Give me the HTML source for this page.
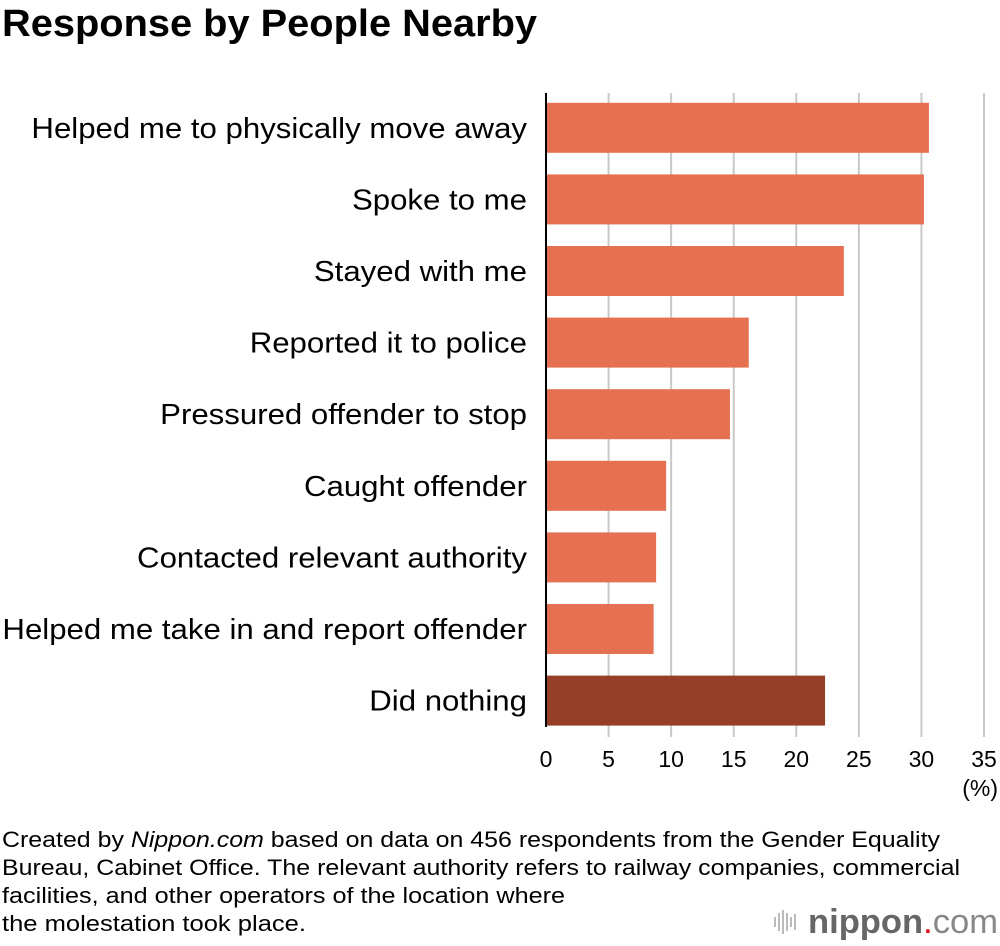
<!DOCTYPE html>
<html><head><meta charset="utf-8"><style>
body{margin:0;background:#fff;}
svg{display:block;font-family:"Liberation Sans",Arial,sans-serif;}
</style></head><body>
<svg id="chart" width="1000" height="946" viewBox="0 0 1000 946">
<text x="2" y="36" font-size="38" font-weight="bold" fill="#000" textLength="535" lengthAdjust="spacingAndGlyphs">Response by People Nearby</text>
<g id="grid"></g>
<g id="bars"></g>
<g id="labels"></g>
<g id="ticks"></g>
<line x1="546" y1="93" x2="546" y2="727" stroke="#000" stroke-width="2"/>
<text x="998" y="796" font-size="23" text-anchor="end">(%)</text>
<g font-size="22" fill="#000">
<text x="2" y="847" textLength="938" lengthAdjust="spacingAndGlyphs">Created by <tspan font-style="italic">Nippon.com</tspan> based on data on 456 respondents from the Gender Equality</text>
<text x="2" y="875" textLength="958" lengthAdjust="spacingAndGlyphs">Bureau, Cabinet Office. The relevant authority refers to railway companies, commercial</text>
<text x="2" y="903" textLength="563" lengthAdjust="spacingAndGlyphs">facilities, and other operators of the location where</text>
<text x="2" y="931" textLength="304" lengthAdjust="spacingAndGlyphs">the molestation took place.</text>
</g>
<g>
<g stroke="#bbb" stroke-width="2">
<line x1="775" y1="917" x2="775" y2="927"/><line x1="779" y1="913" x2="779" y2="931"/><line x1="783" y1="910" x2="783" y2="934"/><line x1="787" y1="913" x2="787" y2="931"/><line x1="791" y1="917" x2="791" y2="927"/><line x1="795" y1="914" x2="795" y2="930"/>
</g>
<text x="808" y="933" font-size="34" fill="#666" textLength="190" lengthAdjust="spacingAndGlyphs"><tspan font-weight="bold">nippon</tspan><tspan fill="#e60012">.</tspan><tspan fill="#888">com</tspan></text>
</g>
</svg>
<script>
const categories=["Helped me to physically move away","Spoke to me","Stayed with me","Reported it to police","Pressured offender to stop","Caught offender","Contacted relevant authority","Helped me take in and report offender","Did nothing"];
const values=[30.6,30.2,23.8,16.2,14.7,9.6,8.8,8.6,22.3];
const tickValues=[0,5,10,15,20,25,30,35];
const tickLabels=["0","5","10","15","20","25","30","35"];
const NS="http://www.w3.org/2000/svg";
const x0=546, pxPer=(984-546)/35;
const xs=v=>x0+v*pxPer;
const yTop=92, band=71.6, barH=50;
const yc=i=>yTop+band*i+band/2;
function mk(tag,attrs,parent){const e=document.createElementNS(NS,tag);for(const k in attrs)e.setAttribute(k,attrs[k]);parent.appendChild(e);return e;}
const grid=document.getElementById('grid'),bars=document.getElementById('bars'),labels=document.getElementById('labels'),ticks=document.getElementById('ticks');
tickValues.forEach((t,i)=>{
  if(t>0){const l=mk('line',{x1:xs(t),x2:xs(t),y1:93,y2:737,stroke:'#c8c8c8','stroke-width':2},grid);
  
  }
  const tx=mk('text',{x:xs(t),y:767,'font-size':23,'text-anchor':'middle'},ticks);
  tx.textContent=tickLabels[i];
  
  
});
categories.forEach((c,i)=>{
  const r=mk('rect',{x:547,y:yc(i)-barH/2,width:xs(values[i])-547,height:barH,fill:i===categories.length-1?'#963f27':'#e57052'},bars);
  
  
  const t=mk('text',{x:527,y:yc(i)+10,'font-size':29,'text-anchor':'end'},labels);
  t.textContent=c;
  
  
  const w=t.getComputedTextLength();
  t.setAttribute('textLength',w*1.075);
  t.setAttribute('lengthAdjust','spacingAndGlyphs');
});
</script>
</body></html>
